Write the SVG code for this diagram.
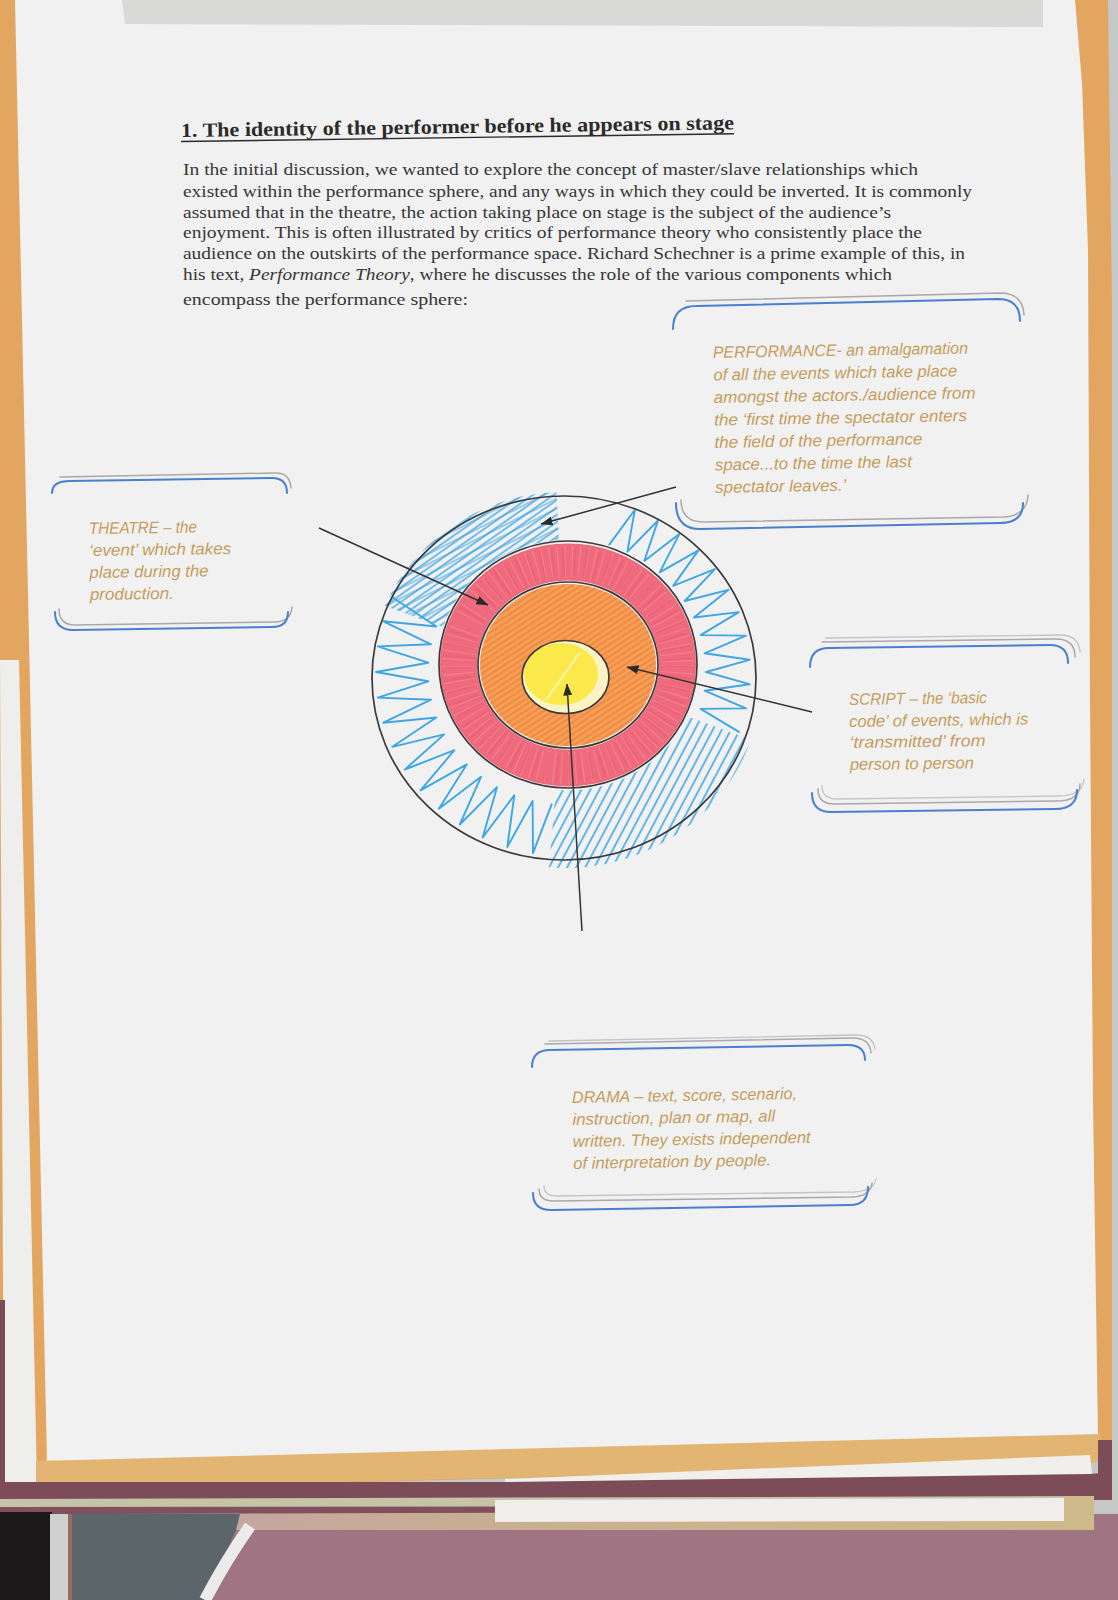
<svg xmlns="http://www.w3.org/2000/svg" width="1118" height="1600" viewBox="0 0 1118 1600">
<style>
.head{font-family:"Liberation Serif","Times New Roman",serif;font-weight:bold;font-size:20px;fill:#2b2b2b}
.body{font-family:"Liberation Serif","Times New Roman",serif;font-size:16.5px;fill:#363636}
.ann{font-family:"Liberation Sans",Arial,sans-serif;font-style:italic;font-size:16.5px;fill:#c59d5c}
.blue{fill:none;stroke:#4a7fd0;stroke-width:2;stroke-linecap:round}
.gray{fill:none;stroke:#a9a9a9;stroke-width:1.5;stroke-linecap:round}
.gray2{fill:none;stroke:#c4c4c4;stroke-width:1.3;stroke-linecap:round}
.ring{fill:none;stroke:#3a3a3a;stroke-width:1.7}
.arrow{stroke:#333;stroke-width:1.5;fill:none}
.zig{fill:none;stroke:#3fa6e4;stroke-width:1.9;stroke-linejoin:round;stroke-linecap:round}
</style>
<defs>
<marker id="ah" markerUnits="userSpaceOnUse" markerWidth="12" markerHeight="9" refX="11.5" refY="4.5" orient="auto">
<path d="M0,0 L12,4.5 L0,9 z" fill="#2a2a2a"/>
</marker>
<pattern id="hatchA" width="6" height="6" patternUnits="userSpaceOnUse" patternTransform="rotate(-35)">
<line x1="0" y1="3" x2="6" y2="3" stroke="#3fa6e4" stroke-width="1.4"/>
</pattern>
<pattern id="hatchA2" width="9" height="9" patternUnits="userSpaceOnUse" patternTransform="rotate(-27)">
<line x1="0" y1="4" x2="9" y2="4" stroke="#3a9fe0" stroke-width="1.2"/>
</pattern>
<pattern id="hatchC" width="8" height="8" patternUnits="userSpaceOnUse" patternTransform="rotate(-62)">
<line x1="0" y1="4" x2="8" y2="4" stroke="#3fa6e4" stroke-width="1.6"/>
</pattern>
<pattern id="hatchO" width="5" height="5" patternUnits="userSpaceOnUse" patternTransform="rotate(-33)">
<line x1="0" y1="2.5" x2="5" y2="2.5" stroke="#ee7e34" stroke-width="2"/>
</pattern>
<clipPath id="blueRing">
<path clip-rule="evenodd" d="M369,680 a196,188 0 1,0 392,0 a196,188 0 1,0 -392,0 Z M437,665 a131,125.5 0 1,0 262,0 a131,125.5 0 1,0 -262,0 Z"/>
</clipPath>
<clipPath id="secA"><polygon points="566,672 284,569 350,420 550,372"/></clipPath>
<clipPath id="secC"><polygon points="566,672 848,775 716,932 540,971"/></clipPath>
<clipPath id="orangeClip"><ellipse cx="568" cy="665" rx="88" ry="81"/></clipPath>
<linearGradient id="tanBand" x1="0" y1="0" x2="1" y2="0">
<stop offset="0" stop-color="#c3a3a6"/>
<stop offset="0.45" stop-color="#c9b08f"/>
<stop offset="1" stop-color="#cdb98a"/>
</linearGradient>
</defs>

<g id="background">
<rect x="0" y="0" width="1118" height="1600" fill="#c6c8c7"/>
<polygon points="0,0 1108,0 1112,300 1112,1440 1104,1462 0,1492" fill="#e3a661"/>
<polygon points="0,660 19,660 37,1482 4,1482" fill="#eeeeec"/>
<polygon points="15,0 1075,0 1082,83 1088,250 1090,700 1093,1100 1098,1436 47,1463" fill="#f1f1f1"/>
<polygon points="122,0 1043,0 1043,27 125,24" fill="#d9d9d8"/>
<polygon points="36,1461 1100,1434 1104,1462 36,1490" fill="#e2b573"/>
<polygon points="505,1479 1090,1455 1092,1474 505,1485" fill="#f0efec"/>
<polygon points="0,1482 505,1482 1090,1474 1112,1472 1112,1500 0,1500" fill="#7d4c59"/>
<rect x="1098" y="1440" width="14" height="60" fill="#7d4c59"/>
<rect x="0" y="1300" width="5" height="200" fill="#7d4c59"/>
<polygon points="0,1499 1094,1496 1094,1507 0,1508" fill="#c5c4a9"/>
<polygon points="0,1507 1094,1506 1094,1512 0,1515" fill="#80505c"/>
<rect x="0" y="1514" width="1118" height="86" fill="#a07483"/>
<polygon points="110,1514 1094,1511 1094,1530 110,1530" fill="url(#tanBand)"/>
<polygon points="495,1500 1065,1498 1065,1521 495,1522" fill="#efeeea"/>
<rect x="1064" y="1496" width="30" height="34" fill="#cdb98a"/>
<rect x="0" y="1512" width="52" height="88" fill="#1c1718"/>
<polygon points="52,1514 240,1514 236,1530 205,1600 52,1600" fill="#5b666b"/>
<rect x="50" y="1514" width="18" height="86" fill="#cfd0cf"/>
<rect x="68" y="1514" width="4" height="86" fill="#9a6a5a"/>
<path d="M250,1526 Q226,1560 205,1600" fill="none" stroke="#ebebeb" stroke-width="12"/>
</g>

<g id="title">
<text class="head" x="181" y="137" textLength="553" lengthAdjust="spacingAndGlyphs" transform="rotate(-0.8 181 137)">1. The identity of the performer before he appears on stage</text>
<line x1="181" y1="141.5" x2="734" y2="141.5" stroke="#2b2b2b" stroke-width="1.4" transform="rotate(-0.8 181 137)"/>
</g>

<g id="paragraph">
<text class="body" x="183" y="175" textLength="735" lengthAdjust="spacingAndGlyphs">In the initial discussion, we wanted to explore the concept of master/slave relationships which</text>
<text class="body" x="183" y="196.5" textLength="789" lengthAdjust="spacingAndGlyphs">existed within the performance sphere, and any ways in which they could be inverted. It is commonly</text>
<text class="body" x="183" y="217.5" textLength="708" lengthAdjust="spacingAndGlyphs">assumed that in the theatre, the action taking place on stage is the subject of the audience’s</text>
<text class="body" x="183" y="238" textLength="739" lengthAdjust="spacingAndGlyphs">enjoyment. This is often illustrated by critics of performance theory who consistently place the</text>
<text class="body" x="183" y="259" textLength="782" lengthAdjust="spacingAndGlyphs">audience on the outskirts of the performance space. Richard Schechner is a prime example of this, in</text>
<text class="body" x="183" y="280" textLength="709" lengthAdjust="spacingAndGlyphs">his text, <tspan font-style="italic">Performance Theory</tspan>, where he discusses the role of the various components which</text>
<text class="body" x="183" y="305" textLength="285" lengthAdjust="spacingAndGlyphs">encompass the performance sphere:</text>
</g>

<g id="node-circles">
<!-- blue outer ring scribbles -->
<g clip-path="url(#blueRing)">
<g clip-path="url(#secA)">
<rect x="280" y="370" width="320" height="320" fill="url(#hatchA)"/>
<rect x="280" y="370" width="320" height="320" fill="url(#hatchA2)" opacity="0.8"/>
</g>
<g clip-path="url(#secC)">
<rect x="540" y="660" width="320" height="320" fill="url(#hatchC)"/>
</g>
</g>
<polyline class="zig" points="609.3,544.6 634.9,509.7 627.4,551.6 658,520.5 644.3,560.9 679.3,534.1 659.7,572.4 698.4,550.4 673.2,585.9 714.9,569.1 684.7,601 728.5,589.8 693.9,617.5 738.9,612.1 700.6,635.1 746,635.6 704.6,653.3 749.6,659.8 706,672 749.6,684.2 704.6,690.7 746,708.4 700.6,708.9 738.9,731.9"/>
<polyline class="zig" points="551.6,804.3 533,853.2 532.6,801 507.3,847 514.3,795.3 482.7,837.4 497,787.2 459.8,824.5 481,776.8 438.9,808.7 466.7,764.4 420.5,790.3 454.4,750.2 404.9,769.5 444.2,734.4 392.4,746.8 436.3,717.5 383.4,722.7 431,699.7 377.8,697.6 428.3,681.3 376,672 428.3,662.7 377.8,646.4 431,644.3 383.4,621.3 436.3,626.5 392.4,597.2"/>
<!-- hide blue inside second ring -->
<ellipse cx="568" cy="665" rx="128" ry="122.5" fill="#f1f1f1"/>
<!-- red ring -->
<ellipse cx="568" cy="665" rx="109.5" ry="103" fill="none" stroke="#ef6a7c" stroke-width="37"/>
<ellipse cx="568" cy="665" rx="109.5" ry="103" fill="none" stroke="#f8aab4" stroke-width="32" stroke-dasharray="1.2 6" opacity="0.35"/>
<ellipse cx="568" cy="665" rx="109.5" ry="103" fill="none" stroke="#e4506a" stroke-width="28" stroke-dasharray="2 9" opacity="0.3"/>
<!-- orange -->
<ellipse cx="568" cy="665" rx="88" ry="81" fill="#f6a15a"/>
<g clip-path="url(#orangeClip)">
<rect x="470" y="575" width="200" height="180" fill="url(#hatchO)" opacity="0.75"/>
</g>
<!-- yellow centre -->
<ellipse cx="565.5" cy="677" rx="43.5" ry="36.5" fill="#fbf3c4"/>
<ellipse cx="561" cy="674" rx="37" ry="31" fill="#fbe84a"/>
<line x1="546" y1="700" x2="580" y2="652" stroke="#fff6b8" stroke-width="2" opacity="0.9"/>
<!-- outlines -->
<ellipse class="ring" cx="564" cy="678" rx="192" ry="182"/>
<ellipse class="ring" cx="568" cy="664.5" rx="129" ry="123.5"/>
<ellipse class="ring" cx="568" cy="665" rx="90" ry="83"/>
<ellipse class="ring" cx="565.5" cy="677" rx="43.5" ry="36.5"/>
</g>

<g id="node-performance">
<path class="gray" d="M686,301 L1000,293 Q1023,293 1024,315"/>
<path class="blue" d="M673,329 Q673,306 696,306 L998,299 Q1020,299 1020,321"/>
<path class="gray" d="M681,500 Q681,522 704,522 L1003,517 Q1027,516 1028,495"/>
<path class="blue" d="M676,503 Q676,529 700,529 L1000,523 Q1023,523 1023,503"/>
<g transform="rotate(-1 713 358)">
<text class="ann" x="713" y="358" textLength="255" lengthAdjust="spacingAndGlyphs">PERFORMANCE- an amalgamation</text>
<text class="ann" x="713" y="380.5" textLength="244" lengthAdjust="spacingAndGlyphs">of all the events which take place</text>
<text class="ann" x="713" y="403" textLength="262" lengthAdjust="spacingAndGlyphs">amongst the actors./audience from</text>
<text class="ann" x="713" y="425.5" textLength="253" lengthAdjust="spacingAndGlyphs">the ‘first time the spectator enters</text>
<text class="ann" x="713" y="448" textLength="208" lengthAdjust="spacingAndGlyphs">the field of the performance</text>
<text class="ann" x="713" y="470.5" textLength="197" lengthAdjust="spacingAndGlyphs">space...to the time the last</text>
<text class="ann" x="713" y="493" textLength="131" lengthAdjust="spacingAndGlyphs">spectator leaves.’</text>
</g>
</g>

<g id="node-theatre">
<path class="gray" d="M60,477 L276,473 Q290,473 291,488"/>
<path class="blue" d="M52,493 Q52,481 70,481 L272,478 Q287,478 287,493"/>
<path class="gray" d="M59,609 Q59,625 75,625 L274,622 Q291,622 292,607"/>
<path class="blue" d="M55,612 Q55,630 73,630 L272,627 Q288,627 288,612"/>
<g transform="rotate(-0.8 89 534)">
<text class="ann" x="89" y="534" textLength="108" lengthAdjust="spacingAndGlyphs">THEATRE – the</text>
<text class="ann" x="89" y="556" textLength="142" lengthAdjust="spacingAndGlyphs">‘event’ which takes</text>
<text class="ann" x="89" y="578" textLength="119" lengthAdjust="spacingAndGlyphs">place during the</text>
<text class="ann" x="89" y="600" textLength="84" lengthAdjust="spacingAndGlyphs">production.</text>
</g>
</g>

<g id="node-script">
<path class="gray2" d="M826,638 L1060,635 Q1079,635 1080,652"/>
<path class="gray" d="M822,642 L1056,639 Q1075,639 1075,657"/>
<path class="blue" d="M810,667 Q810,648 829,648 L1050,645 Q1068,645 1068,663"/>
<path class="gray2" d="M822,786 Q822,799 837,799 L1058,796 Q1083,796 1084,779"/>
<path class="gray" d="M818,789 Q818,804 834,804 L1057,801 Q1080,801 1080,784"/>
<path class="blue" d="M812,793 Q812,812 831,812 L1055,809 Q1077,809 1077,790"/>
<g transform="rotate(-0.8 849 705)">
<text class="ann" x="849" y="705" textLength="138" lengthAdjust="spacingAndGlyphs">SCRIPT – the ‘basic</text>
<text class="ann" x="849" y="727" textLength="179" lengthAdjust="spacingAndGlyphs">code’ of events, which is</text>
<text class="ann" x="849" y="748" textLength="136" lengthAdjust="spacingAndGlyphs">‘transmitted’ from</text>
<text class="ann" x="849" y="770" textLength="124" lengthAdjust="spacingAndGlyphs">person to person</text>
</g>
</g>

<g id="node-drama">
<path class="gray2" d="M549,1041 L856,1035 Q873,1035 875,1049"/>
<path class="gray" d="M545,1044 L853,1038 Q870,1038 871,1053"/>
<path class="blue" d="M532,1067 Q532,1050 550,1050 L848,1045 Q865,1045 865,1060"/>
<path class="gray2" d="M544,1186 Q544,1196 557,1196 L854,1192 Q874,1191 876,1179"/>
<path class="gray" d="M539,1189 Q539,1201 554,1201 L852,1197 Q871,1196 872,1183"/>
<path class="blue" d="M533,1193 Q533,1210 551,1210 L850,1205 Q868,1205 868,1187"/>
<g transform="rotate(-1 572 1103)">
<text class="ann" x="572" y="1103" textLength="225" lengthAdjust="spacingAndGlyphs">DRAMA – text, score, scenario,</text>
<text class="ann" x="572" y="1125" textLength="203" lengthAdjust="spacingAndGlyphs">instruction, plan or map, all</text>
<text class="ann" x="572" y="1147" textLength="238" lengthAdjust="spacingAndGlyphs">written. They exists independent</text>
<text class="ann" x="572" y="1169" textLength="198" lengthAdjust="spacingAndGlyphs">of interpretation by people.</text>
</g>
</g>

<g id="connectors">
<line class="arrow" x1="676" y1="487" x2="541" y2="524" marker-end="url(#ah)"/>
<line class="arrow" x1="319" y1="528" x2="488" y2="605" marker-end="url(#ah)"/>
<line class="arrow" x1="812" y1="712" x2="627" y2="667" marker-end="url(#ah)"/>
<line class="arrow" x1="582" y1="931" x2="567" y2="684" marker-end="url(#ah)"/>
</g>
</svg>
